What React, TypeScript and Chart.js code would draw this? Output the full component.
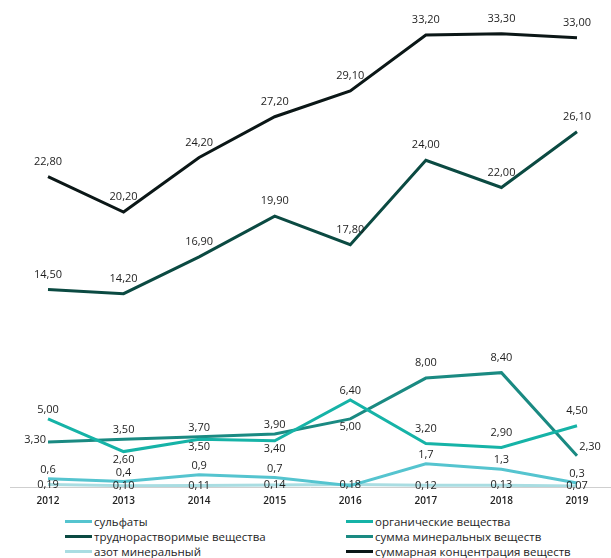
import React, { useEffect, useRef } from "react";
import { Chart, registerables } from "chart.js";

Chart.register(...registerables);

const years = ["2012", "2013", "2014", "2015", "2016", "2017", "2018", "2019"];
const sulfates = [0.6, 0.4, 0.9, 0.7, 0.1, 1.7, 1.3, 0.3];
const organic = [5.0, 2.6, 3.5, 3.4, 6.4, 3.2, 2.9, 4.5];
const hardlySoluble = [14.5, 14.2, 16.9, 19.9, 17.8, 24.0, 22.0, 26.1];
const mineralSum = [3.3, 3.5, 3.7, 3.9, 5.0, 8.0, 8.4, 2.3];
const nitrogen = [0.19, 0.1, 0.11, 0.14, 0.18, 0.12, 0.13, 0.07];
const totalConc = [22.8, 20.2, 24.2, 27.2, 29.1, 33.2, 33.3, 33.0];

const seriesNames = [
  "сульфаты",
  "органические вещества",
  "труднорастворимые вещества",
  "сумма минеральных веществ",
  "азот минеральный",
  "суммарная концентрация веществ",
];

const colors = ["#55c4cf", "#16b3a7", "#0b4a42", "#1a8a82", "#a9dde2", "#0b1717"];

// label placement codes (style only): a=above, s=slightly above, b=below, l=left, r=right-up, c=centre, n=hidden
const labelPos: Record<string, string[]> = {
  sulf: ["s", "s", "s", "s", "n", "s", "s", "s"],
  org: ["s", "b", "b", "b", "s", "a", "a", "a"],
  hard: ["a", "a", "a", "a", "a", "a", "a", "a"],
  min: ["l", "s", "s", "s", "b", "a", "a", "r"],
  nit: ["c", "c", "c", "c", "c", "c", "c", "c"],
  tot: ["a", "a", "a", "a", "a", "a", "a", "a"],
};
const posKeys = ["sulf", "org", "hard", "min", "nit", "tot"];
const decimals = [1, 2, 2, 2, 2, 2];

const axisLinePlugin = {
  id: "axisLine",
  beforeDatasetsDraw(chart: any) {
    const ctx = chart.ctx;
    const y = Math.round(chart.scales.y.getPixelForValue(0)) + 0.5;
    ctx.save();
    ctx.strokeStyle = "#cfcfcf";
    ctx.lineWidth = 1;
    ctx.beginPath();
    ctx.moveTo(10, y);
    ctx.lineTo(chart.width, y);
    ctx.stroke();
    ctx.restore();
  },
};

const labelPlugin = {
  id: "valueLabels",
  afterDatasetsDraw(chart: any) {
    const ctx = chart.ctx;
    ctx.save();
    ctx.font = "11px 'Open Sans', sans-serif";
    ctx.fillStyle = "#1e1e1e";
    ctx.textBaseline = "middle";
    chart.data.datasets.forEach((ds: any, di: number) => {
      const meta = chart.getDatasetMeta(di);
      const codes = labelPos[posKeys[di]];
      meta.data.forEach((pt: any, i: number) => {
        const code = codes[i];
        if (code === "n") return;
        const txt = Number(ds.data[i]).toFixed(decimals[di]).replace(".", ",");
        let x = pt.x;
        let y = pt.y;
        ctx.textAlign = "center";
        if (code === "a") y -= 15;
        else if (code === "s") y -= 9;
        else if (code === "b") y += 8;
        else if (code === "l") {
          ctx.textAlign = "right";
          x -= 2;
          y -= 2;
        } else if (code === "r") {
          x += 13;
          y -= 9;
        }
        ctx.fillText(txt, x, y);
      });
    });
    ctx.restore();
  },
};

export default function App() {
  const ref = useRef<HTMLCanvasElement | null>(null);

  useEffect(() => {
    document.body.style.margin = "0";
    const seriesData = [sulfates, organic, hardlySoluble, mineralSum, nitrogen, totalConc];
    const chart = new Chart(ref.current as HTMLCanvasElement, {
      type: "line",
      data: {
        labels: years,
        datasets: seriesData.map((d, i) => ({
          label: seriesNames[i],
          data: d,
          borderColor: colors[i],
          backgroundColor: colors[i],
          borderWidth: 3,
          pointRadius: 0,
          tension: 0,
          fill: false,
        })),
      },
      options: {
        animation: false,
        responsive: false,
        layout: { padding: { top: 1, left: 48, right: 34, bottom: 0 } },
        plugins: { legend: { display: false }, tooltip: { enabled: false } },
        scales: {
          x: {
            offset: false,
            grid: { display: false, drawTicks: false },
            border: { display: false },
            ticks: {
              padding: 8,
              color: "#222",
              font: { family: "'Open Sans', sans-serif", size: 10, weight: "600" },
              maxRotation: 0,
              autoSkip: false,
            },
            afterFit(scale: any) {
              scale.height = 25;
            },
          },
          y: { display: false, min: 0, max: 35.7 },
        },
      },
      plugins: [axisLinePlugin, labelPlugin],
    });
    return () => chart.destroy();
  }, []);

  const legendCols = [65, 346];
  const legendRows = [521, 536, 551];

  return (
    <div style={{ position: "relative", width: 611, height: 558, overflow: "hidden", fontFamily: "'Open Sans', sans-serif" }}>
      <canvas ref={ref} width={611} height={512} style={{ display: "block" }} />
      {seriesNames.map((name, i) => {
        const col = i % 2;
        const row = Math.floor(i / 2);
        return (
          <div
            key={name}
            style={{
              position: "absolute",
              left: legendCols[col],
              top: legendRows[row] - 8,
              height: 16,
              display: "flex",
              alignItems: "center",
              whiteSpace: "nowrap",
              fontSize: 11.5,
              color: "#1e1e1e",
            }}
          >
            <span style={{ display: "inline-block", width: 27, height: 3, background: colors[i], marginRight: 2 }} />
            <span>{name}</span>
          </div>
        );
      })}
    </div>
  );
}
